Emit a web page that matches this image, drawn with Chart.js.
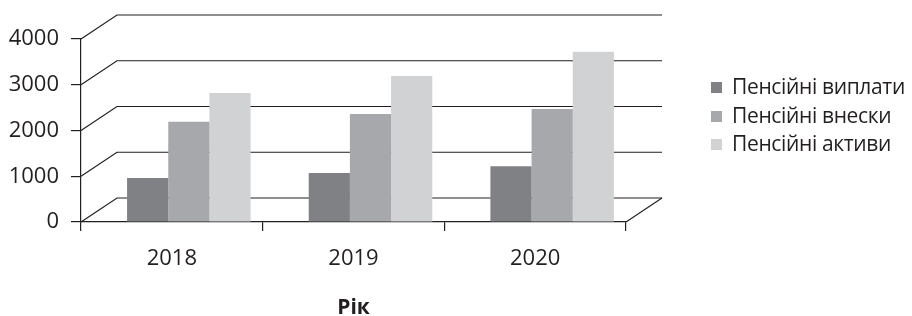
<!DOCTYPE html>
<html lang="uk">
<head>
<meta charset="UTF-8">
<title>Пенсійні показники</title>
<script src="https://cdn.jsdelivr.net/npm/chart.js"></script>
<style>
  body { margin: 0; background: #fff; }
  #wrap { position: relative; width: 912px; height: 316px; }
  #legend { position: absolute; left: 711px; top: 72px; font-family: "Open Sans", sans-serif; font-size: 21px; letter-spacing: -0.35px; color: #231f20; }
  #legend div { height: 28.5px; line-height: 28.5px; white-space: nowrap; }
  #legend span { display: inline-block; width: 11px; height: 11px; margin-right: 10px; vertical-align: 1px; }
</style>
</head>
<body>
<div id="wrap">
  <canvas id="myChart" width="912" height="316"></canvas>
  <div id="legend"></div>
</div>
<script>
const years = ['2018', '2019', '2020'];
const payments = [960, 1070, 1220];
const contributions = [2190, 2360, 2470];
const assets = [2820, 3190, 3720];
const seriesNames = ['Пенсійні виплати', 'Пенсійні внески', 'Пенсійні активи'];
const seriesColors = ['#808184', '#a7a8ab', '#d1d2d4'];
const yTicks = [0, 1000, 2000, 3000, 4000];

const ink = '#231f20';
const depthX = 36, depthY = 24;

// back wall grid, drawn like an old 3D office chart
const wallGrid = {
  id: 'wallGrid',
  beforeDatasetsDraw(chart) {
    const ctx = chart.ctx;
    const y = chart.scales.y;
    const a = chart.chartArea;
    ctx.save();
    ctx.strokeStyle = ink;
    ctx.lineWidth = 1.2;
    yTicks.forEach(v => {
      const py = y.getPixelForValue(v);
      ctx.beginPath();
      ctx.moveTo(a.left, py);
      ctx.lineTo(a.left + depthX, py - depthY);
      ctx.lineTo(a.right + depthX, py - depthY);
      ctx.stroke();
    });
    ctx.beginPath();
    ctx.moveTo(a.right, a.bottom);
    ctx.lineTo(a.right + depthX, a.bottom - depthY);
    ctx.stroke();
    // bars sit half way into the depth
    ctx.restore();
    ctx.save();
    ctx.translate(depthX / 2 - 1, 0);
  },
  afterDatasetsDraw(chart) {
    chart.ctx.restore();
  }
};

const ctx = document.getElementById('myChart').getContext('2d');
const myChart = new Chart(ctx, {
  type: 'bar',
  data: {
    labels: years,
    datasets: [payments, contributions, assets].map((d, i) => ({
      label: seriesNames[i],
      data: d,
      backgroundColor: seriesColors[i],
      borderWidth: 0,
      barPercentage: 1,
      categoryPercentage: 0.68,
      clip: false
    }))
  },
  options: {
    responsive: false,
    animation: false,
    layout: { padding: { top: 39, right: 286, left: 0, bottom: 0 } },
    plugins: { legend: { display: false }, tooltip: { enabled: false } },
    scales: {
      x: {
        afterFit: s => { s.height = 94; },
        grid: { offset: true, drawOnChartArea: false, tickLength: 9, color: ink, lineWidth: 1.2 },
        border: { color: ink, width: 1.2 },
        ticks: { color: ink, padding: 15, font: { family: 'Open Sans', size: 22 } },
        title: { display: true, text: 'Рік', color: ink, padding: 0,
                 font: { family: 'Open Sans', size: 21, weight: 'bold', lineHeight: 0.72 } }
      },
      y: {
        min: 0, max: 4000,
        afterFit: s => { s.width = 81; },
        afterBuildTicks: s => { s.ticks = yTicks.map(v => ({ value: v })); },
        grid: { drawOnChartArea: false, tickLength: 10, color: ink, lineWidth: 1.2 },
        border: { color: ink, width: 1.2 },
        ticks: { color: ink, padding: 12, font: { family: 'Open Sans', size: 22 },
                 callback: v => String(v) }
      }
    }
  },
  plugins: [wallGrid]
});

const legend = document.getElementById('legend');
seriesNames.forEach((name, i) => {
  const row = document.createElement('div');
  row.innerHTML = '<span style="background:' + seriesColors[i] + '"></span>' + name;
  legend.appendChild(row);
});
</script>
</body>
</html>
